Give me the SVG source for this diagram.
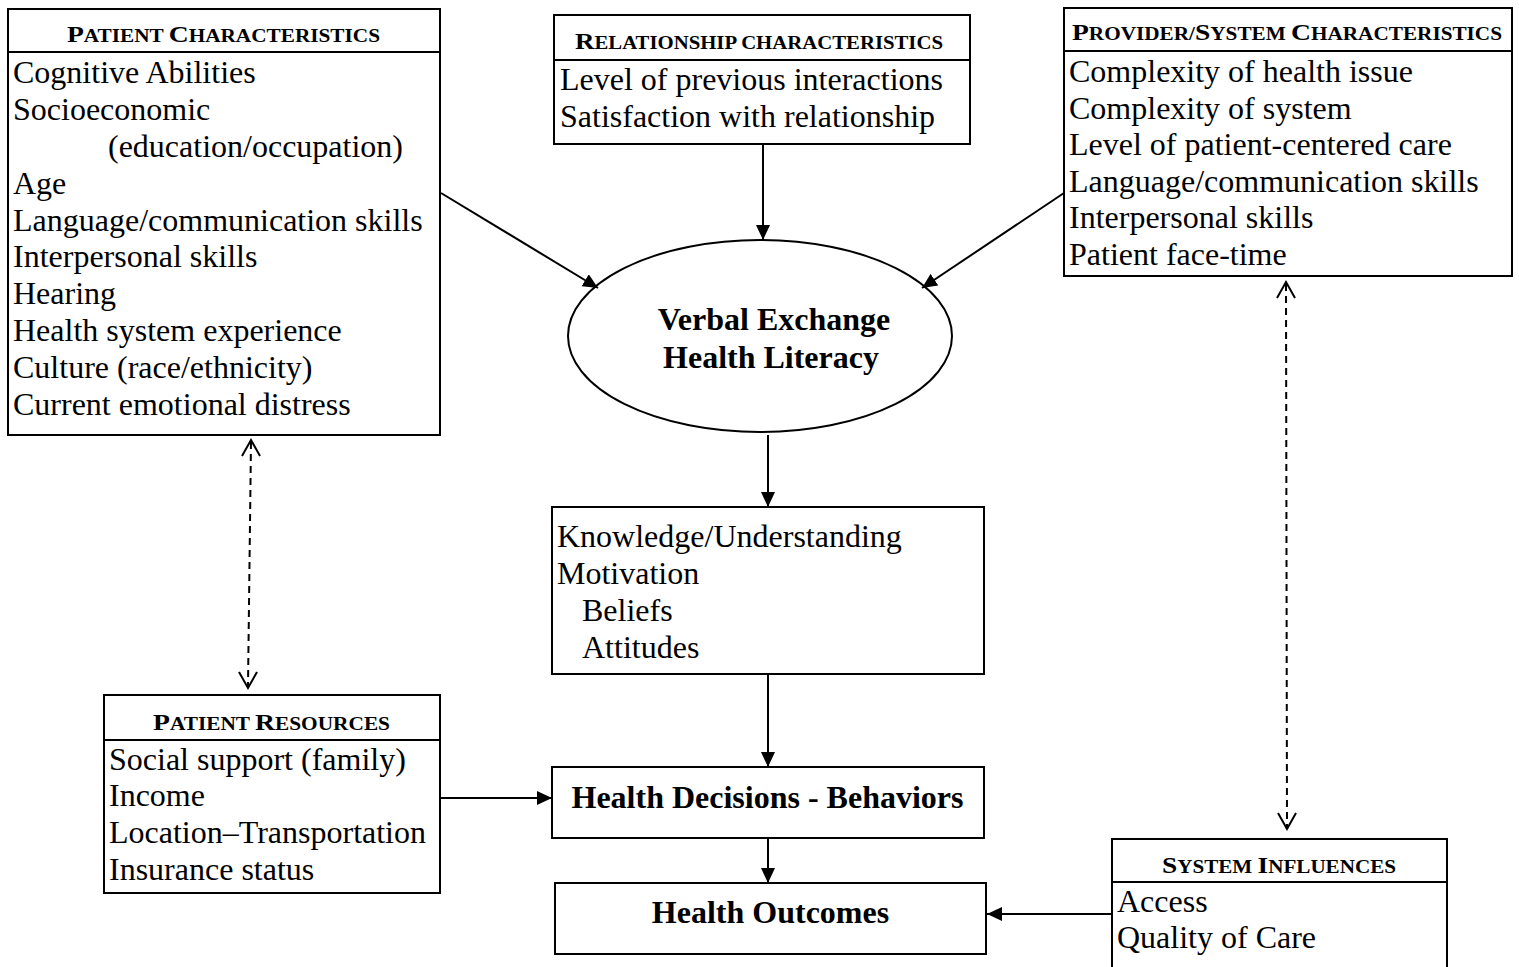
<svg xmlns="http://www.w3.org/2000/svg" width="1519" height="967" viewBox="0 0 1519 967">
<style>
.box{fill:#fff;stroke:#000;stroke-width:2}
.div{stroke:#000;stroke-width:2}
.t{font-family:"Liberation Serif","Times New Roman",serif;font-size:32px;fill:#000}
.b{font-family:"Liberation Serif","Times New Roman",serif;font-size:32px;font-weight:bold;fill:#000}
.hd{font-family:"Liberation Serif","Times New Roman",serif;font-weight:bold;font-size:18.5px;fill:#000}
.bg{font-size:24px}
.ln{stroke:#000;stroke-width:2;fill:none}
.dash{stroke:#000;stroke-width:2;fill:none;stroke-dasharray:7 5}
.open{stroke:#000;stroke-width:2;fill:none}
</style>
<defs>
<marker id="ah" markerUnits="userSpaceOnUse" markerWidth="16" markerHeight="14" refX="15" refY="7" orient="auto">
<path d="M0,0 L15,7 L0,14 Z" fill="#000"/>
</marker>
</defs>
<rect width="1519" height="967" fill="#fff"/>

<g id="patient-characteristics">
<rect class="box" x="8" y="9" width="432" height="426"/>
<line class="div" x1="8" y1="52" x2="440" y2="52"/>
<text class="hd" x="223.5" y="42" text-anchor="middle" textLength="313" lengthAdjust="spacingAndGlyphs"><tspan class="bg">P</tspan>ATIENT <tspan class="bg">C</tspan>HARACTERISTICS</text>
<text class="t" x="13" y="83">Cognitive Abilities</text>
<text class="t" x="13" y="120">Socioeconomic</text>
<text class="t" x="108" y="157">(education/occupation)</text>
<text class="t" x="13" y="194">Age</text>
<text class="t" x="13" y="231">Language/communication skills</text>
<text class="t" x="13" y="267">Interpersonal skills</text>
<text class="t" x="13" y="304">Hearing</text>
<text class="t" x="13" y="341">Health system experience</text>
<text class="t" x="13" y="378">Culture (race/ethnicity)</text>
<text class="t" x="13" y="415">Current emotional distress</text>
</g>

<g id="relationship-characteristics">
<rect class="box" x="554" y="15" width="416" height="129"/>
<line class="div" x1="554" y1="60" x2="970" y2="60"/>
<text class="hd" x="759" y="49" text-anchor="middle" textLength="368" lengthAdjust="spacingAndGlyphs"><tspan class="bg">R</tspan>ELATIONSHIP CHARACTERISTICS</text>
<text class="t" x="560" y="90">Level of previous interactions</text>
<text class="t" x="560" y="127">Satisfaction with relationship</text>
</g>

<g id="provider-system-characteristics">
<rect class="box" x="1064" y="8" width="448" height="268"/>
<line class="div" x1="1064" y1="51" x2="1512" y2="51"/>
<text class="hd" x="1287" y="40" text-anchor="middle" textLength="430" lengthAdjust="spacingAndGlyphs"><tspan class="bg">P</tspan>ROVIDER/<tspan class="bg">S</tspan>YSTEM <tspan class="bg">C</tspan>HARACTERISTICS</text>
<text class="t" x="1069" y="82">Complexity of health issue</text>
<text class="t" x="1069" y="118.6">Complexity of system</text>
<text class="t" x="1069" y="155.2">Level of patient-centered care</text>
<text class="t" x="1069" y="191.8">Language/communication skills</text>
<text class="t" x="1069" y="228.4">Interpersonal skills</text>
<text class="t" x="1069" y="265">Patient face-time</text>
</g>

<g id="verbal-exchange">
<ellipse class="box" cx="760" cy="336" rx="192" ry="96"/>
<text class="b" x="774" y="330" text-anchor="middle">Verbal Exchange</text>
<text class="b" x="771" y="368" text-anchor="middle">Health Literacy</text>
</g>

<g id="knowledge">
<rect class="box" x="552" y="507" width="432" height="167"/>
<text class="t" x="557" y="547">Knowledge/Understanding</text>
<text class="t" x="557" y="584">Motivation</text>
<text class="t" x="582" y="621">Beliefs</text>
<text class="t" x="582" y="658">Attitudes</text>
</g>

<g id="health-decisions">
<rect class="box" x="552" y="767" width="432" height="71"/>
<text class="b" x="767.5" y="808" text-anchor="middle">Health Decisions - Behaviors</text>
</g>

<g id="health-outcomes">
<rect class="box" x="555" y="883" width="431" height="71"/>
<text class="b" x="770.5" y="923" text-anchor="middle">Health Outcomes</text>
</g>

<g id="patient-resources">
<rect class="box" x="104" y="695" width="336" height="198"/>
<line class="div" x1="104" y1="740" x2="440" y2="740"/>
<text class="hd" x="271.5" y="730" text-anchor="middle" textLength="237" lengthAdjust="spacingAndGlyphs"><tspan class="bg">P</tspan>ATIENT <tspan class="bg">R</tspan>ESOURCES</text>
<text class="t" x="109" y="770">Social support (family)</text>
<text class="t" x="109" y="806">Income</text>
<text class="t" x="109" y="843">Location–Transportation</text>
<text class="t" x="109" y="880">Insurance status</text>
</g>

<g id="system-influences">
<path class="box" d="M1112,970 L1112,839 L1447,839 L1447,970"/>
<line class="div" x1="1112" y1="882" x2="1447" y2="882"/>
<text class="hd" x="1279" y="873" text-anchor="middle" textLength="234" lengthAdjust="spacingAndGlyphs"><tspan class="bg">S</tspan>YSTEM <tspan class="bg">I</tspan>NFLUENCES</text>
<text class="t" x="1117" y="912">Access</text>
<text class="t" x="1117" y="948">Quality of Care</text>
</g>

<g id="connectors">
<line class="ln" x1="763" y1="144" x2="763" y2="240" marker-end="url(#ah)"/>
<line class="ln" x1="441" y1="193" x2="598" y2="288" marker-end="url(#ah)"/>
<line class="ln" x1="1064" y1="193" x2="922" y2="288" marker-end="url(#ah)"/>
<line class="ln" x1="768" y1="435" x2="768" y2="507" marker-end="url(#ah)"/>
<line class="ln" x1="768" y1="674" x2="768" y2="767" marker-end="url(#ah)"/>
<line class="ln" x1="768" y1="838" x2="768" y2="883" marker-end="url(#ah)"/>
<line class="ln" x1="440" y1="798" x2="552" y2="798" marker-end="url(#ah)"/>
<line class="ln" x1="1112" y1="914" x2="987" y2="914" marker-end="url(#ah)"/>
<line class="dash" x1="251" y1="442" x2="248" y2="686"/>
<polyline class="open" points="242,456 251,440 260,456"/>
<polyline class="open" points="239,672 248,688 257,672"/>
<line class="dash" x1="1286" y1="284" x2="1287" y2="827"/>
<polyline class="open" points="1277,298 1286,282 1295,298"/>
<polyline class="open" points="1278,813 1287,829 1296,813"/>
</g>
</svg>
